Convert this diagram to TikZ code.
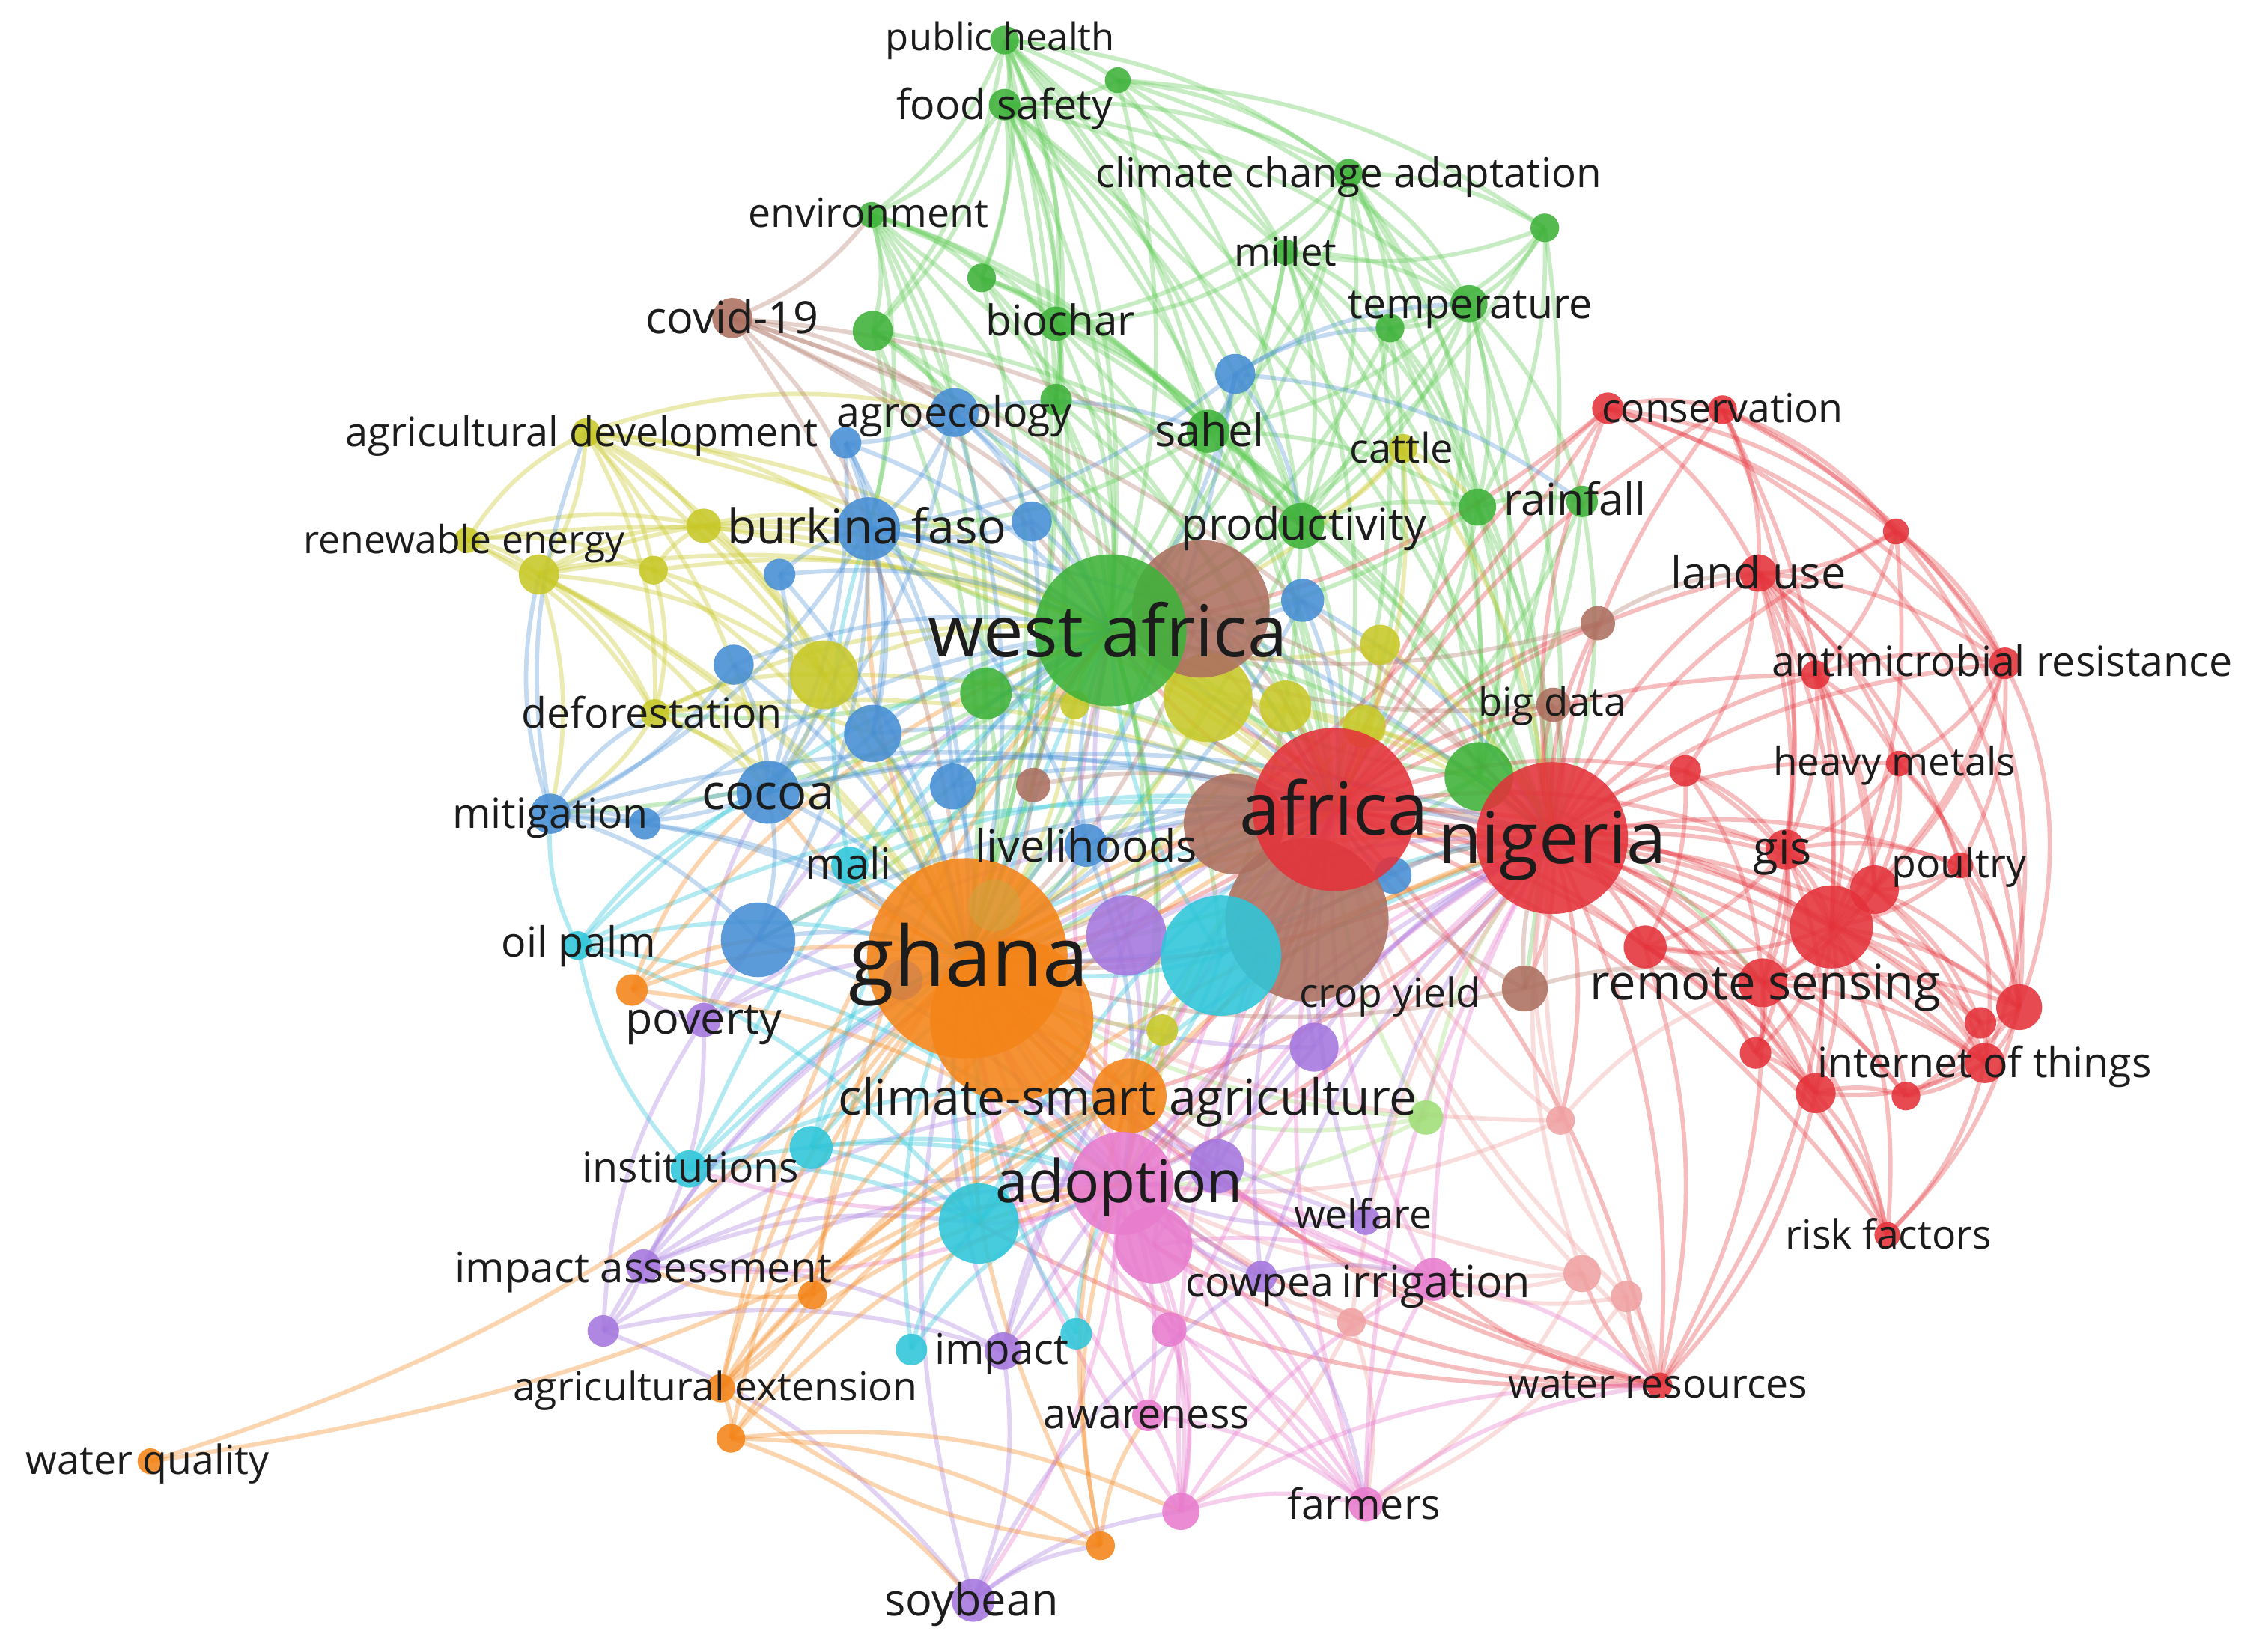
\documentclass[tikz,border=0pt]{standalone}
\usepackage{fontspec}
\setmainfont{Open Sans}
\pgfdeclarelayer{bg}
\pgfdeclarelayer{edges}
\pgfsetlayers{bg,edges,main}
\definecolor{cred}{RGB}{228,50,58}
\definecolor{cgreen}{RGB}{62,178,58}
\definecolor{cblue}{RGB}{70,142,212}
\definecolor{cyellow}{RGB}{200,200,40}
\definecolor{cpurple}{RGB}{164,118,222}
\definecolor{ccyan}{RGB}{46,198,218}
\definecolor{corange}{RGB}{244,132,24}
\definecolor{cbrown}{RGB}{172,112,96}
\definecolor{cpink}{RGB}{232,124,206}
\definecolor{csalmon}{RGB}{240,162,162}
\definecolor{clgreen}{RGB}{160,222,120}
\definecolor{colive}{RGB}{200,170,70}
\definecolor{ctxt}{RGB}{28,28,28}
\definecolor{egreen}{RGB}{100,205,90}
\newcommand\vnode[5]{\node[circle,inner sep=0pt,minimum size={2*#4pt},fill=#5,fill opacity=0.88] (#1) at (#2,#3) {};}
\newcommand\vlabel[5]{\node[text=ctxt,inner sep=0pt,anchor=base,font=\fontsize{#4}{#4}\selectfont] (#1) at (#2,{#3+0.35*#4}) {#5};}
\newcommand\vedges[3]{\foreach \tg in {#3}{\draw[#1] (#2.center) to[bend left=15] (\tg.center);}}
\tikzset{
  ebase/.style={line width=3pt,draw opacity=0.36},
  eg/.style={ebase,draw=egreen},
  er/.style={ebase,draw=cred,draw opacity=0.32},
  eb/.style={ebase,draw=cblue,draw opacity=0.32},
  ey/.style={ebase,draw=cyellow},
  epu/.style={ebase,draw=cpurple,draw opacity=0.32},
  ec/.style={ebase,draw=ccyan},
  eo/.style={ebase,draw=corange,draw opacity=0.34},
  ebr/.style={ebase,draw=cbrown,draw opacity=0.32},
  ep/.style={ebase,draw=cpink},
  es/.style={ebase,draw=csalmon},
  elg/.style={ebase,draw=clgreen}
}
\begin{document}
\begin{tikzpicture}[x=1pt,y=-1pt]
\useasboundingbox (0,0) rectangle (1568,1153);
\begin{pgfonlayer}{bg}
\fill[white] (0,0) rectangle (1568,1153);
\end{pgfonlayer}
% ---- small nodes ----
\vnode{ph}{701}{28}{10}{cgreen}
\vnode{g2}{780}{56}{9}{cgreen}
\vnode{fs}{701}{73}{11}{cgreen}
\vnode{cca}{941}{121}{10}{cgreen}
\vnode{env}{608}{150}{9}{cgreen}
\vnode{g6}{1078}{159}{10}{cgreen}
\vnode{mil}{897}{176}{9}{cgreen}
\vnode{g8}{685}{194}{10}{cgreen}
\vnode{temp}{1025}{212}{13}{cgreen}
\vnode{g10}{970}{229}{10}{cgreen}
\vnode{g11}{609}{231}{14}{cgreen}
\vnode{bioc}{737}{226}{12}{cgreen}
\vnode{g13}{737}{279}{11}{cgreen}
\vnode{sah}{843}{301}{15}{cgreen}
\vnode{prod}{908}{367}{16}{cgreen}
\vnode{rainA}{1031}{354}{13}{cgreen}
\vnode{rainB}{1104}{350}{11}{cgreen}
\vnode{g18}{688}{484}{18}{cgreen}
\vnode{lg}{995}{780}{12}{clgreen}
\vnode{br4}{721}{548}{12}{cbrown}
\vnode{cov}{511}{222}{14}{cbrown}
\vnode{br5}{1115}{435}{12}{cbrown}
\vnode{cyb}{1064}{690}{16}{cbrown}
\vnode{bd}{1084}{492}{12}{cbrown}
\vnode{cons1}{1122}{285}{11}{cred}
\vnode{cons2}{1202}{286}{10}{cred}
\vnode{r3}{1323}{371}{9}{cred}
\vnode{lu}{1227}{400}{13}{cred}
\vnode{am1}{1267}{471}{10}{cred}
\vnode{am2}{1399}{463}{11}{cred}
\vnode{hm}{1325}{533}{9}{cred}
\vnode{r7}{1176}{538}{11}{cred}
\vnode{gis}{1246}{593}{14}{cred}
\vnode{pou}{1368}{604}{9}{cred}
\vnode{r9}{1308}{621}{17}{cred}
\vnode{r11}{1148}{661}{15}{cred}
\vnode{rs}{1230}{686}{17}{cred}
\vnode{r13}{1409}{703}{16}{cred}
\vnode{r14}{1382}{714}{11}{cred}
\vnode{iot}{1385}{742}{14}{cred}
\vnode{r16}{1225}{735}{11}{cred}
\vnode{r17}{1267}{763}{14}{cred}
\vnode{r18}{1330}{765}{10}{cred}
\vnode{rf}{1317}{862}{9}{cred}
\vnode{wr}{1158}{967}{9}{cred}
\vnode{s1}{1089}{782}{10}{csalmon}
\vnode{s2}{1104}{889}{13}{csalmon}
\vnode{s3}{1135}{905}{11}{csalmon}
\vnode{s4}{943}{923}{10}{csalmon}
\vnode{p3}{816}{928}{12}{cpink}
\vnode{aw}{801}{988}{11}{cpink}
\vnode{p5}{824}{1055}{13}{cpink}
\vnode{fm}{953}{1050}{12}{cpink}
\vnode{irr}{1000}{893}{15}{cpink}
\vnode{pu2}{917}{731}{17}{cpurple}
\vnode{pu3}{849}{814}{19}{cpurple}
\vnode{wel}{953}{852}{10}{cpurple}
\vnode{cow}{880}{891}{11}{cpurple}
\vnode{pov}{491}{712}{12}{cpurple}
\vnode{ia}{449}{884}{12}{cpurple}
\vnode{pu8}{421}{929}{11}{cpurple}
\vnode{imp}{700}{943}{13}{cpurple}
\vnode{soy}{679}{1117}{15}{cpurple}
\vnode{mali}{593}{604}{13}{ccyan}
\vnode{inst}{481}{816}{13}{ccyan}
\vnode{cy4}{566}{801}{15}{ccyan}
\vnode{cy6}{636}{942}{11}{ccyan}
\vnode{cy7}{751}{931}{11}{ccyan}
\vnode{op}{403}{660}{10}{ccyan}
\vnode{o4}{441}{691}{11}{corange}
\vnode{o5}{567}{904}{10}{corange}
\vnode{ae}{503}{969}{10}{corange}
\vnode{o7}{510}{1004}{10}{corange}
\vnode{wq}{105}{1020}{9}{corange}
\vnode{o9}{768}{1079}{10}{corange}
\vnode{agdev}{409}{302}{10}{cyellow}
\vnode{y2}{326}{377}{9}{cyellow}
\vnode{y3}{376}{401}{14}{cyellow}
\vnode{y4}{456}{398}{10}{cyellow}
\vnode{y5}{491}{367}{12}{cyellow}
\vnode{def}{457}{498}{10}{cyellow}
\vnode{y9}{897}{493}{18}{cyellow}
\vnode{y10}{963}{450}{14}{cyellow}
\vnode{y11}{750}{492}{10}{cyellow}
\vnode{y12}{952}{507}{15}{cyellow}
\vnode{cat}{979}{313}{10}{cyellow}
\vnode{y14}{811}{719}{11}{cyellow}
\vnode{agro}{666}{288}{17}{cblue}
\vnode{b2}{590}{309}{11}{cblue}
\vnode{b4}{720}{364}{14}{cblue}
\vnode{b5}{544}{401}{11}{cblue}
\vnode{b6}{909}{419}{15}{cblue}
\vnode{b7}{512}{464}{14}{cblue}
\vnode{b8}{609}{512}{20}{cblue}
\vnode{b9}{665}{549}{16}{cblue}
\vnode{mit}{384}{568}{14}{cblue}
\vnode{b12}{450}{575}{11}{cblue}
\vnode{liv}{758}{590}{15}{cblue}
\vnode{b15}{972}{611}{13}{cblue}
\vnode{b16}{862}{261}{14}{cblue}
% ---- medium nodes ----
\vnode{bf}{606}{369}{22}{cblue}
\vnode{coc}{536}{553}{22}{cblue}
\vnode{y7}{575}{471}{24}{cyellow}
\vnode{gbd}{1032}{542}{24}{cgreen}
\vnode{b13}{529}{656}{26}{cblue}
\vnode{csa}{788}{765}{26}{corange}
\vnode{p2}{805}{869}{27}{cpink}
\vnode{cy5}{683}{854}{28}{ccyan}
\vnode{pu1}{786}{653}{28}{cpurple}
\vnode{r10}{1278}{647}{29}{cred}
\vnode{y8}{843}{487}{31}{cyellow}
% ---- big nodes ----
\vnode{br2}{861}{575}{35}{cbrown}
\vnode{ad}{783}{826}{36}{cpink}
\vnode{br1}{838}{425}{48}{cbrown}
\vnode{br3}{912}{642}{57}{cbrown}
\vnode{cy1}{852}{667}{42}{ccyan}
\vnode{wa}{775}{440}{53}{cgreen}
\vnode{ng}{1083}{585}{53}{cred}
\vnode{gh2}{706}{712}{57}{corange}
\vnode{af}{931}{565}{57}{cred}
\vnode{gh}{675}{669}{70}{corange}
\node[circle,inner sep=0pt,minimum size=36pt,fill=colive,fill opacity=0.45] (ygh) at (694,632) {};
\node[circle,inner sep=0pt,minimum size=28pt,fill=cbrown,fill opacity=0.35] (brg) at (630,684) {};
% ---- edges ----
\begin{pgfonlayer}{edges}
\vedges{eg}{ph}{g2,fs,env,g11,bioc,g13,sah,wa,prod,af,ng,cca,g8,mil,gh}
\vedges{eg}{g2}{fs,cca,g6,temp,wa,mil,prod}
\vedges{eg}{fs}{env,g8,g11,wa,sah,prod,af,ng,cca,mil,temp,bioc,gh,g13}
\vedges{eg}{env}{g11,g8,bioc,wa,gh,af,sah,prod,agro,bf,g18}
\vedges{ebr}{env}{cov}
\vedges{eg}{cca}{mil,temp,g10,g6,wa,prod,af,ng,sah,rainA,gbd,bioc}
\vedges{eg}{g6}{temp,g10,mil,rainA,wa,gbd}
\vedges{eg}{mil}{temp,sah,wa,prod,af,ng,g10,bioc,gbd,rainA}
\vedges{eg}{temp}{g10,rainA,rainB,wa,prod,af,ng,gbd,sah}
\vedges{eg}{g10}{wa,prod,af,ng,rainA,gbd}
\vedges{eg}{g8}{bioc,wa,g13,sah,prod,gh}
\vedges{eg}{g11}{wa,gh,bf,agro,prod,af}
\vedges{eg}{bioc}{wa,sah,prod,af,gh,g13,ng}
\vedges{eg}{g13}{wa,gh,prod,af}
\vedges{eg}{sah}{wa,prod,bf,gh,af,ng,rainA,mali}
\vedges{eg}{prod}{wa,af,ng,rainA,gh,gbd,csa}
\vedges{eg}{rainA}{ng,af,wa,gbd,rainB,cyb}
\vedges{eg}{rainB}{ng,af,gbd}
\vedges{eg}{gbd}{ng,af,wa,gh,rs}
\vedges{eg}{wa}{gh,af,ng,ad,csa,bf,coc,b13,cy1,pu1,mit,def}
\vedges{eg}{g18}{wa,gh,af}
\vedges{elg}{lg}{ad,ng,af,gh,csa}
\vedges{er}{ng}{af,gis,r9,r10,rs,r11,lu,cons1,cons2,r3,am1,am2,hm,r7,pou,r13,r14,iot,r16,r17,r18,rf,wr,gh,wa,ad,csa,cyb,s1,bd,br5}
\vedges{er}{af}{cons1,cons2,lu,r7,gis,r10,rs,r11,gh,wa,ad,csa,cy1,wr,rf,iot,r17,bd,br5,am1}
\vedges{er}{cons1}{cons2,lu,r3,wa,am2,gh}
\vedges{er}{cons2}{r3,lu,am2,r10,gis}
\vedges{er}{r3}{am2,lu,r10,am1}
\vedges{er}{lu}{am1,am2,hm,gis,r10,r9,rs,r7,pou}
\vedges{er}{am1}{hm,r10,r9,gis,am2}
\vedges{er}{am2}{r10,pou,hm,r9}
\vedges{er}{hm}{r10,r9,pou,gis,r13}
\vedges{er}{r7}{r10,gis,rs,r11}
\vedges{er}{gis}{r10,r9,rs,r11,pou,iot,r17,r16}
\vedges{er}{pou}{r9,r10,r13,iot}
\vedges{er}{r9}{r10,r13,r14,iot,rs}
\vedges{er}{r10}{rs,r13,r14,iot,r16,r17,r18,r11,rf,wr}
\vedges{er}{r11}{rs,r16,r17,wr}
\vedges{er}{rs}{r16,r17,r18,iot,r13,rf,wr}
\vedges{er}{r13}{r14,iot,r18,rf}
\vedges{er}{r14}{iot,r18}
\vedges{er}{iot}{r18,r17,rf}
\vedges{er}{r16}{r17,rf}
\vedges{er}{r17}{r18,rf,wr}
\vedges{er}{wr}{s2,s3,ad,irr,gh,csa,cy5,p2}
\draw[er] (cons1.center) to[bend left=40] (r13.center);
\draw[er] (r3.center) to[bend left=35] (r13.center);
\draw[er] (lu.center) to[bend left=30] (r13.center);
\draw[er] (cons2.center) to[bend left=45] (iot.center);
\vedges{es}{s1}{ng,af,ad,rs,gh}
\vedges{es}{s2}{ng,af,wr,ad,irr,gh,fm}
\vedges{es}{s3}{ng,wr,af,irr,fm}
\vedges{es}{s4}{ad,irr,ng,fm,p5,gh}
\vedges{ep}{ad}{gh,af,ng,wa,csa,cy1,pu1,fm,p5,aw,irr,cy5,ia,inst,imp,soy}
\vedges{ep}{p2}{gh,ng,af,fm,irr,p5}
\vedges{ep}{p3}{ad,gh,fm,p5}
\vedges{ep}{aw}{ad,gh,p5,fm,ng}
\vedges{ep}{p5}{gh,fm,irr,af,wr}
\vedges{ep}{fm}{irr,ng,af,gh,wr,csa}
\vedges{ep}{irr}{ng,af,gh,wr,csa}
\vedges{epu}{pu1}{gh,af,ng,wa,csa}
\vedges{epu}{pu2}{gh,af,ng,ad}
\vedges{epu}{pu3}{gh,ad,ng,af}
\vedges{epu}{wel}{ad,gh,ng,af}
\vedges{epu}{cow}{ad,gh,ng,af,fm,irr}
\vedges{epu}{pov}{gh,wa,af,ia,coc,b13,o4}
\vedges{epu}{ia}{gh,ad,pu8,csa,af,imp,cy5}
\vedges{epu}{pu8}{gh,ad,imp,soy,pov}
\vedges{epu}{imp}{gh,soy,csa,af,ng}
\vedges{epu}{soy}{gh,o9,cow,p5}
\vedges{ec}{cy1}{gh,ng,wa,csa}
\vedges{ec}{mali}{gh,wa,af,bf}
\vedges{ec}{inst}{gh,ad,cy5,csa,wa,af,op}
\vedges{ec}{cy4}{gh,ad,cy5,wa,af}
\vedges{ec}{cy5}{gh,af,ng,wa,csa}
\vedges{ec}{cy6}{ad,gh,cy5}
\vedges{ec}{cy7}{ad,gh}
\vedges{ec}{op}{gh,coc,wa,mit,ad,af,cy5}
\vedges{eo}{gh}{af,ng,csa,bf,coc,mali}
\vedges{eo}{gh2}{ad,csa,af}
\vedges{eo}{csa}{ad,ng}
\vedges{eo}{o4}{gh,coc,wa,b13,ad}
\vedges{eo}{o5}{gh,ad,csa,ia,ae,wa}
\vedges{eo}{ae}{gh,ad,csa,o7,wa,af,ng}
\vedges{eo}{o7}{gh,ad,csa,soy,o9,p5}
\draw[eo] (wq.center) to[bend right=14] (gh.center);
\draw[eo] (wq.center) to[bend right=12] (csa.center);
\vedges{eo}{o9}{ad,gh,csa,aw,ae}
\vedges{ey}{agdev}{bf,y5,y4,y3,wa,gh,y7,af,coc,agro,def}
\vedges{ey}{y2}{y3,y4,y5,agdev,def,wa,gh}
\vedges{ey}{y3}{y4,y5,def,wa,gh,coc,mit,y7,bf}
\vedges{ey}{y4}{y5,def,wa,gh,y7}
\vedges{ey}{y5}{wa,gh,bf,y7,af}
\vedges{ey}{def}{mit,coc,gh,wa,y7,b8,af}
\vedges{ey}{y7}{wa,gh,af,coc}
\vedges{ey}{y8}{wa,af,gh,ng}
\vedges{ey}{y9}{wa,af,gh,ng}
\vedges{ey}{y10}{wa,af,ng}
\vedges{ey}{y11}{wa,gh}
\vedges{ey}{y12}{af,ng,gh}
\vedges{ey}{cat}{prod,wa,af,ng,rainA}
\vedges{ey}{y14}{gh,ad,af}
\vedges{eb}{agro}{bf,wa,gh,b2,b4,af,coc,sah}
\vedges{eb}{b2}{bf,gh,wa,coc,b8}
\vedges{eb}{bf}{wa,af,coc,b8,b9,mit,b13,liv,ng}
\vedges{eb}{b4}{wa,gh,bf}
\vedges{eb}{b5}{bf,wa,gh,coc}
\vedges{eb}{b6}{wa,af,ng,gh}
\vedges{eb}{b7}{gh,wa,coc,mit}
\vedges{eb}{b8}{gh,wa,af,coc}
\vedges{eb}{b9}{gh,wa,af}
\vedges{eb}{coc}{gh,af,mit,b13,ng}
\vedges{eb}{mit}{gh,b12,b13,af,def,agdev,y3}
\vedges{eb}{b12}{gh,coc,wa}
\vedges{eb}{b13}{gh,af,ad}
\vedges{eb}{liv}{gh,wa,af,ng,ad}
\vedges{eb}{b15}{af,ng,gh}
\vedges{eb}{b16}{wa,sah,prod,temp,bf,gh,g10,rainB}
\vedges{ebr}{cov}{br1,wa,gh,af,ng,agro,bf,prod}
\vedges{ebr}{br1}{wa,af,ng,gh}
\vedges{ebr}{br2}{af,ng,gh}
\vedges{ebr}{br3}{af,ng,gh,ad}
\vedges{ebr}{br4}{gh,wa,af}
\vedges{ebr}{br5}{wa,lu}
\vedges{ebr}{cyb}{ng,af,gh,rs}
\vedges{ebr}{bd}{ng,wa}
\end{pgfonlayer}
% ---- labels ----
\vlabel{Lph}{698}{26}{26.5}{public health}
\vlabel{Lfs}{701}{73}{29}{food safety}
\vlabel{Lcca}{941}{121}{28.6}{climate change adaptation}
\vlabel{Lenv}{606}{149}{28}{environment}
\vlabel{Lmil}{897}{176}{27.5}{millet}
\vlabel{Ltemp}{1026}{212}{29}{temperature}
\vlabel{Lcov}{511}{222}{31}{covid-19}
\vlabel{Lbioc}{740}{224}{29.5}{biochar}
\vlabel{Lagdev}{406}{302}{28.2}{agricultural development}
\vlabel{Lagro}{666}{288}{29}{agroecology}
\vlabel{Lsah}{844}{301}{31}{sahel}
\vlabel{Lcat}{978}{313}{28.5}{cattle}
\vlabel{Lcons}{1202}{285}{28}{conservation}
\vlabel{Lrain}{1099}{349}{31}{rainfall}
\vlabel{Lren}{324}{377}{27}{renewable energy}
\vlabel{Lbf}{605}{368}{33.5}{burkina faso}
\vlabel{Lprod}{910}{366}{31}{productivity}
\vlabel{Llu}{1227}{400}{31}{land use}
\vlabel{Lwa}{773}{441}{50}{west africa}
\vlabel{Lam}{1397}{462}{29}{antimicrobial resistance}
\vlabel{Ldef}{455}{498}{29}{deforestation}
\vlabel{Lbd}{1083}{490}{27.5}{big data}
\vlabel{Lhm}{1322}{532}{27.6}{heavy metals}
\vlabel{Lcoc}{536}{553}{34}{cocoa}
\vlabel{Lmit}{384}{568}{29}{mitigation}
\vlabel{Laf}{931}{565}{51}{africa}
\vlabel{Lng}{1083}{585}{50}{nigeria}
\vlabel{Lmali}{592}{603}{30}{mali}
\vlabel{Lliv}{758}{591}{31}{livelihoods}
\vlabel{Lgis}{1244}{592}{32}{gis}
\vlabel{Lpou}{1367}{603}{28}{poultry}
\vlabel{Lop}{404}{658}{29}{oil palm}
\vlabel{Lgh}{676}{668}{58}{ghana}
\vlabel{Lcy}{970}{693}{28}{crop yield}
\vlabel{Lrs}{1232}{686}{34}{remote sensing}
\vlabel{Lpov}{491}{711}{31}{poverty}
\vlabel{Liot}{1385}{742}{29}{internet of things}
\vlabel{Lcsa}{787}{766}{34.5}{climate-smart agriculture}
\vlabel{Linst}{482}{815}{29}{institutions}
\vlabel{Lad}{781}{825}{41}{adoption}
\vlabel{Lwel}{951}{848}{28}{welfare}
\vlabel{Lrf}{1318}{862}{28}{risk factors}
\vlabel{Lia}{449}{885}{29.5}{impact assessment}
\vlabel{Lcow}{879}{895}{29}{cowpea}
\vlabel{Lirr}{1002}{895}{31}{irrigation}
\vlabel{Limp}{699}{942}{29.5}{impact}
\vlabel{Lae}{499}{968}{28}{agricultural extension}
\vlabel{Lwr}{1157}{966}{28}{water resources}
\vlabel{Law}{800}{987}{29}{awareness}
\vlabel{Lwq}{103}{1019}{28}{water quality}
\vlabel{Lfm}{952}{1050}{29}{farmers}
\vlabel{Lsoy}{678}{1117}{31}{soybean}
\end{tikzpicture}
\end{document}
